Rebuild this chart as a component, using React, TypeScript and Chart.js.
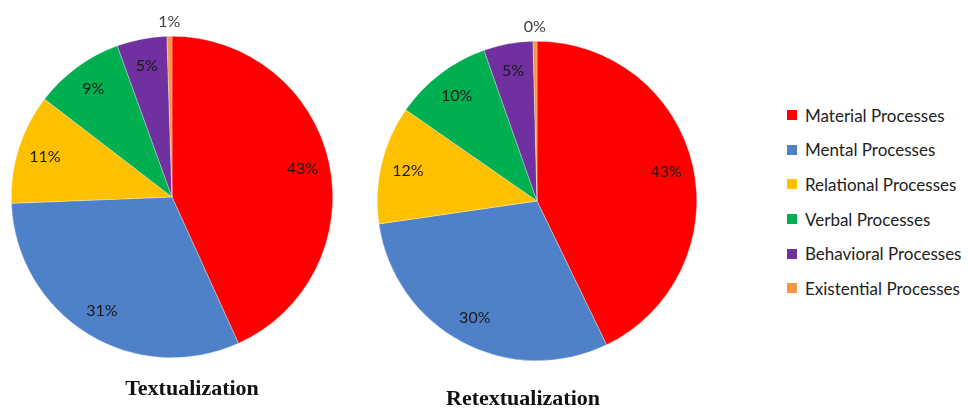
import React, { useEffect, useRef } from "react";
import { Chart, registerables } from "chart.js";

Chart.register(...registerables);

const categories = [
  "Material Processes",
  "Mental Processes",
  "Relational Processes",
  "Verbal Processes",
  "Behavioral Processes",
  "Existential Processes",
];
const textualizationValues = [43, 31, 11, 9, 5, 0.5];
const retextualizationValues = [43, 30, 12, 10, 5, 0.4];
const colors = ["#FF0000", "#4F81C8", "#FFC000", "#00B050", "#7030A0", "#F79646"];
const chartTitles = ["Textualization", "Retextualization"];

const labelPlugin = {
  id: "sliceLabels",
  afterDatasetsDraw(chart: any) {
    const ctx = chart.ctx;
    const meta = chart.getDatasetMeta(0);
    const data = chart.data.datasets[0].data as number[];
    ctx.save();
    ctx.font = "16px Lato, 'Open Sans', sans-serif";
    ctx.textAlign = "center";
    ctx.textBaseline = "middle";
    meta.data.forEach((arc: any, i: number) => {
      const { x, y, startAngle, endAngle, outerRadius } = arc.getProps(
        ["x", "y", "startAngle", "endAngle", "outerRadius"],
        true
      );
      const mid = (startAngle + endAngle) / 2;
      const small = data[i] < 1;
      const r = small ? outerRadius + 14 : outerRadius * 0.83;
      ctx.fillStyle = small ? "#404040" : "#1a1a1a";
      ctx.fillText(Math.round(data[i]) + "%", x + Math.cos(mid) * r, y + Math.sin(mid) * r);
    });
    ctx.restore();
  },
};

function PieChart(props: {
  values: number[];
  left: number;
  width: number;
  padding: { left: number; right: number; top: number; bottom: number };
}) {
  const ref = useRef<HTMLCanvasElement>(null);
  useEffect(() => {
    const chart = new Chart(ref.current as HTMLCanvasElement, {
      type: "pie",
      data: {
        labels: categories,
        datasets: [
          {
            data: props.values,
            backgroundColor: colors,
            borderColor: "rgba(255,255,255,0.6)",
            borderWidth: 0.5,
          },
        ],
      },
      options: {
        responsive: false,
        animation: false,
        layout: { padding: props.padding },
        plugins: {
          legend: { display: false },
          tooltip: { enabled: false },
          title: { display: false },
        },
      },
      plugins: [labelPlugin],
    });
    return () => chart.destroy();
  }, []);
  return (
    <canvas
      ref={ref}
      width={props.width}
      height={408}
      style={{ position: "absolute", left: props.left, top: 0, width: props.width, height: 408 }}
    />
  );
}

const titleStyle: React.CSSProperties = {
  position: "absolute",
  width: 240,
  textAlign: "center",
  fontFamily: "'Liberation Serif', serif",
  fontWeight: "bold",
  fontSize: 22,
  color: "#111",
  lineHeight: "26px",
};

export default function App() {
  return (
    <div
      style={{
        position: "fixed",
        left: 0,
        top: 0,
        width: 968,
        height: 408,
        background: "#ffffff",
        overflow: "hidden",
      }}
    >
      <PieChart
        values={textualizationValues}
        left={0}
        width={350}
        padding={{ left: 11, right: 17, top: 36, bottom: 50 }}
      />
      <PieChart
        values={retextualizationValues}
        left={360}
        width={350}
        padding={{ left: 17, right: 13, top: 41, bottom: 47 }}
      />
      <div style={{ ...titleStyle, left: 72, top: 375 }}>{chartTitles[0]}</div>
      <div style={{ ...titleStyle, left: 403, top: 385, fontWeight: 600 }}>{chartTitles[1]}</div>
      <div style={{ position: "absolute", left: 787, top: 98 }}>
        {categories.map((c, i) => (
          <div
            key={c}
            style={{
              display: "flex",
              alignItems: "center",
              height: 34.6,
              fontFamily: "Lato, 'Open Sans', sans-serif",
              fontSize: 17,
              color: "#222",
              whiteSpace: "nowrap",
            }}
          >
            <span
              style={{
                display: "inline-block",
                width: 10,
                height: 10,
                background: colors[i],
                marginRight: 8,
                flex: "none",
              }}
            />
            {c}
          </div>
        ))}
      </div>
    </div>
  );
}
